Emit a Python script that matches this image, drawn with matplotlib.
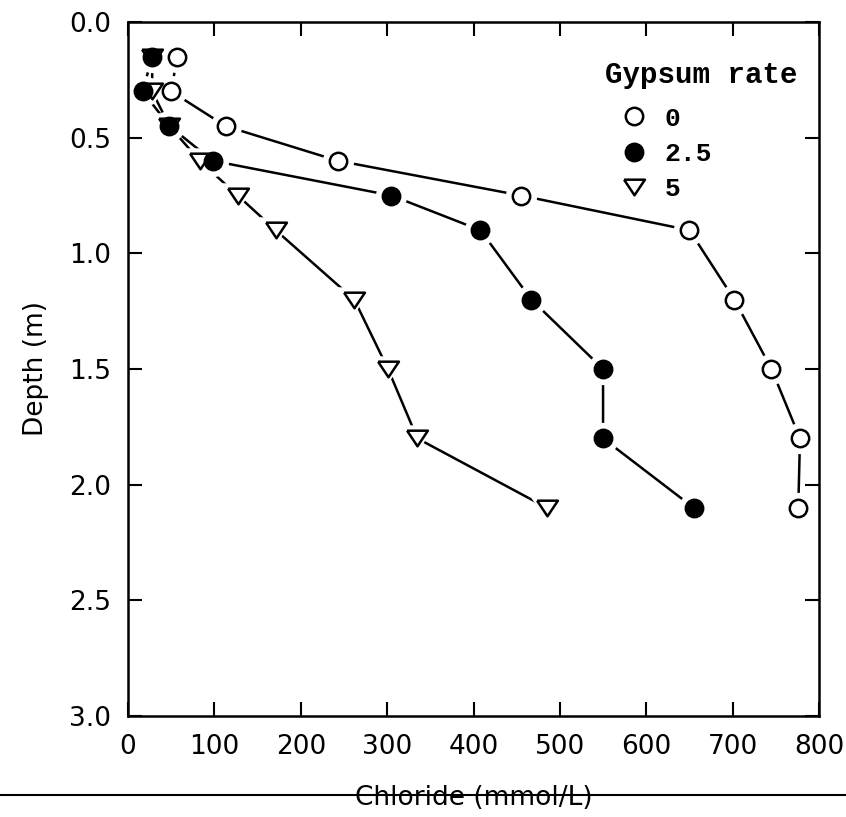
import numpy as np
import matplotlib
matplotlib.use("Agg")
import matplotlib.pyplot as plt
from matplotlib.lines import Line2D

# data (chloride in mmol/L, depth in m)
depth = [0.15, 0.30, 0.45, 0.60, 0.75, 0.90, 1.20, 1.50, 1.80, 2.10]
cl_rate0 = [57, 50, 113, 243, 455, 650, 702, 745, 778, 776]
cl_rate25 = [28, 17, 48, 98, 305, 408, 467, 550, 550, 655]
cl_rate5 = [28, 28, 48, 83, 127, 171, 262, 301, 335, 485]
rate_labels = ["0", "2.5", "5"]

plt.rcParams['font.family'] = 'DejaVu Sans'

fig = plt.figure(figsize=(8.46, 8.17), dpi=100)
ax = fig.add_axes([128 / 846, 1 - 716 / 817, 691 / 846, 694 / 817])

# wide, flat down-pointing triangle (closed)
tri = [(-1, 0.75), (1, 0.75), (0, -0.75), (-1, 0.75)]
series = [
    (cl_rate0, 'o', 'white', 12.5),
    (cl_rate25, 'o', 'black', 12.5),
    (cl_rate5, tri, 'white', 15),
]
# filled circles sit on top of the triangles where they overlap
draw_order = [2, 0, 1]

# lines first, then white halos to break the lines, then markers
for xs, mk, fc, ms in series:
    ax.plot(xs, depth, color='black', lw=1.8, zorder=1)
for xs, mk, fc, ms in series:
    ax.plot(xs, depth, ls='none', marker=mk, ms=ms + 9, mfc='white',
            mec='white', zorder=2)
for k, i in enumerate(draw_order):
    xs, mk, fc, ms = series[i]
    ax.plot(xs, depth, ls='none', marker=mk, ms=ms, mfc=fc, mec='black',
            mew=1.8, zorder=3 + k)

ax.set_xlim(0, 800)
ax.set_ylim(3.0, 0.0)
ax.set_xticks(np.arange(0, 801, 100))
ax.set_yticks(np.arange(0, 3.01, 0.5))
ax.set_yticklabels([f"{v:.1f}" for v in np.arange(0, 3.01, 0.5)])

for s in ax.spines.values():
    s.set_linewidth(1.8)
ax.tick_params(axis='both', direction='in', top=True, right=True,
               length=10, width=1.5, labelsize=19)
ax.tick_params(axis='x', pad=13)
ax.tick_params(axis='y', pad=12)

ax.set_ylabel('Depth (m)', fontsize=19, labelpad=15)
ax.set_xlabel('Chloride (mmol/L)', fontsize=19, labelpad=18)

# legend
mono = {'family': 'Liberation Mono', 'weight': 'bold'}
ax.text(0.69, 0.924, 'Gypsum rate', transform=ax.transAxes, ha='left',
        va='center', fontsize=21, **mono)
handles = [Line2D([], [], ls='none', marker=mk, ms=ms, mfc=fc, mec='black', mew=1.8)
           for _, mk, fc, ms in series]
ax.legend(handles, rate_labels, loc='upper left', bbox_to_anchor=(0.7156, 0.878),
          frameon=False, borderaxespad=0, borderpad=0, handlelength=0.85,
          handletextpad=0.75, labelspacing=0.42,
          prop={'family': 'Liberation Mono', 'weight': 'bold', 'size': 19})

# scan line crossing the x label
fig.add_artist(Line2D([0, 1], [1 - 795 / 817, 1 - 795 / 817], color='black',
                      lw=1.5, transform=fig.transFigure))

fig.savefig('out.png', dpi=100)
